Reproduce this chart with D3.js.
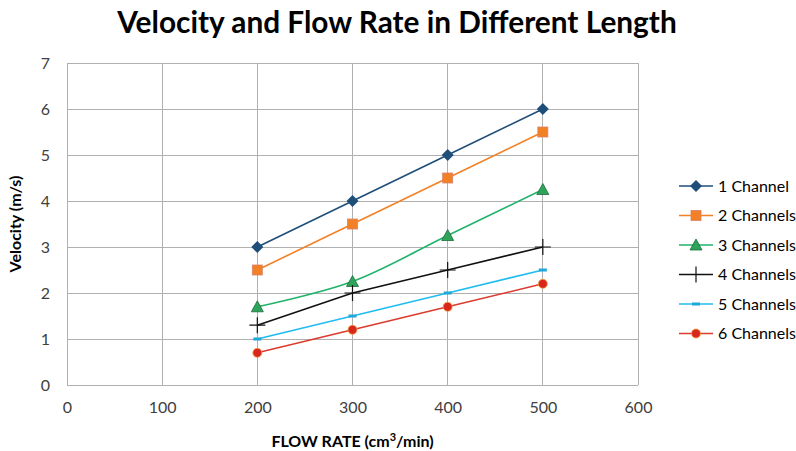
<!DOCTYPE html>
<html>
<head>
<meta charset="utf-8">
<script src="https://cdn.jsdelivr.net/npm/d3@7"></script>
<style>
  body { margin: 0; background: #fff; }
  svg { font-family: Lato, "Open Sans", sans-serif; }
</style>
</head>
<body>
<script>
// data
const flowRates = [200, 300, 400, 500]
const seriesNames = ['1 Channel', '2 Channels', '3 Channels', '4 Channels', '5 Channels', '6 Channels']
const ch1 = [3, 4, 5, 6]
const ch2 = [2.5, 3.5, 4.5, 5.5]
const ch3 = [1.7, 2.25, 3.25, 4.25]
const ch4 = [1.3, 2.0, 2.5, 3.0]
const ch5 = [1.0, 1.5, 2.0, 2.5]
const ch6 = [0.7, 1.2, 1.7, 2.2]
const xTicks = [0, 100, 200, 300, 400, 500, 600]
const yTicks = [0, 1, 2, 3, 4, 5, 6, 7]

const width = 796
const height = 451
const margin = { top: 63, right: 158, bottom: 66, left: 67 }

const styles = [
  { color: '#1f4e79', marker: 'diamond', fill: '#1f4e79' },
  { color: '#f28125', marker: 'square', fill: '#f28125' },
  { color: '#21b36a', marker: 'triangle', fill: '#2ca55a', smooth: true },
  { color: '#111111', marker: 'plus', fill: '#111111' },
  { color: '#1fbcf0', marker: 'dash', fill: '#1fa8d8' },
  { color: '#dc3a2e', marker: 'circle', fill: '#d8271c' }
]

const allSeries = [ch1, ch2, ch3, ch4, ch5, ch6]

const svg = d3.select('body').append('svg')
  .attr('width', width)
  .attr('height', height)

const x = d3.scaleLinear().domain([0, 600]).range([margin.left, width - margin.right])
const y = d3.scaleLinear().domain([0, 7]).range([height - margin.bottom, margin.top])

// title
svg.append('text')
  .attr('x', 397).attr('y', 33)
  .attr('text-anchor', 'middle')
  .attr('font-size', 29.8).attr('font-weight', 'bold')
  .attr('fill', '#000')
  .text('Velocity and Flow Rate in Different Length')

// grid
svg.append('g').selectAll('line.v')
  .data(xTicks).enter().append('line')
  .attr('x1', d => x(d)).attr('x2', d => x(d))
  .attr('y1', y(7)).attr('y2', y(0))
  .attr('stroke', '#b0b0b0').attr('stroke-width', 1)
  .attr('shape-rendering', 'crispEdges')
svg.append('g').selectAll('line.h')
  .data(yTicks).enter().append('line')
  .attr('x1', x(0)).attr('x2', x(600))
  .attr('y1', d => y(d)).attr('y2', d => y(d))
  .attr('stroke', '#b0b0b0').attr('stroke-width', 1)
  .attr('shape-rendering', 'crispEdges')

// axes (tick labels only)
const xAxis = svg.append('g')
  .attr('transform', `translate(0,${y(0)})`)
  .call(d3.axisBottom(x).tickValues(xTicks).tickFormat(d3.format('d')).tickSize(0).tickPadding(17))
xAxis.select('.domain').remove()
xAxis.selectAll('text').attr('font-size', 16).attr('fill', '#404040').attr('font-family', 'Lato, sans-serif')

const yAxis = svg.append('g')
  .attr('transform', `translate(${x(0)},0)`)
  .call(d3.axisLeft(y).tickValues(yTicks).tickFormat(d3.format('d')).tickSize(0).tickPadding(17))
yAxis.select('.domain').remove()
yAxis.selectAll('text').attr('font-size', 16).attr('fill', '#404040').attr('font-family', 'Lato, sans-serif')

// axis titles
svg.append('text')
  .attr('x', (x(0) + x(600)) / 2).attr('y', 447)
  .attr('text-anchor', 'middle')
  .attr('font-size', 16).attr('font-weight', 'bold')
  .attr('fill', '#000')
  .html('FLOW RATE (cm<tspan dy="-6" font-size="11">3</tspan><tspan dy="6">/min)</tspan>')

svg.append('text')
  .attr('transform', `translate(21,${(y(0) + y(7)) / 2}) rotate(-90)`)
  .attr('text-anchor', 'middle')
  .attr('font-size', 16).attr('font-weight', 'bold')
  .attr('fill', '#000')
  .text('Velocity (m/s)')

function drawMarker(g, type, cx, cy, st) {
  if (type === 'diamond') {
    g.append('path').attr('d', `M${cx},${cy - 6}L${cx + 6},${cy}L${cx},${cy + 6}L${cx - 6},${cy}Z`)
      .attr('fill', st.fill)
  } else if (type === 'square') {
    g.append('rect').attr('x', cx - 5).attr('y', cy - 5).attr('width', 10).attr('height', 10)
      .attr('fill', st.fill).attr('stroke', '#d9826a').attr('stroke-width', 0.8)
  } else if (type === 'triangle') {
    g.append('path').attr('d', `M${cx},${cy - 6}L${cx + 6},${cy + 5}L${cx - 6},${cy + 5}Z`)
      .attr('fill', st.fill).attr('stroke', '#1d6b3c').attr('stroke-width', 0.8)
  } else if (type === 'plus') {
    g.append('path').attr('d', `M${cx - 8},${cy}H${cx + 8}M${cx},${cy - 8}V${cy + 8}`)
      .attr('stroke', st.fill).attr('stroke-width', 1.2).attr('fill', 'none')
  } else if (type === 'dash') {
    g.append('rect').attr('x', cx - 4).attr('y', cy - 1.5).attr('width', 8).attr('height', 3)
      .attr('fill', st.fill)
  } else if (type === 'circle') {
    g.append('circle').attr('cx', cx).attr('cy', cy).attr('r', 4.5)
      .attr('fill', st.fill).attr('stroke', '#f0a040').attr('stroke-width', 0.8)
  }
}

// series
allSeries.forEach((vals, i) => {
  const st = styles[i]
  const pts = vals.map((v, j) => [flowRates[j], v])
  const line = d3.line()
    .x(d => x(d[0])).y(d => y(d[1]))
    .curve(st.smooth ? d3.curveCatmullRom.alpha(0.5) : d3.curveLinear)
  const g = svg.append('g')
  g.append('path').datum(pts)
    .attr('d', line)
    .attr('fill', 'none')
    .attr('stroke', st.color)
    .attr('stroke-width', 1.6)
  pts.forEach(p => drawMarker(g, st.marker, x(p[0]), y(p[1]), st))
})

// legend
const legend = svg.append('g')
seriesNames.forEach((name, i) => {
  const st = styles[i]
  const ly = 186 + i * 29.5
  const g = legend.append('g')
  g.append('line').attr('x1', 679).attr('x2', 713).attr('y1', ly).attr('y2', ly)
    .attr('stroke', st.color).attr('stroke-width', 1.6)
  drawMarker(g, st.marker, 696, ly, st)
  g.append('text').attr('x', 718).attr('y', ly + 5.5)
    .attr('font-size', 16).attr('fill', '#000')
    .text(name)
})
</script>
</body>
</html>
